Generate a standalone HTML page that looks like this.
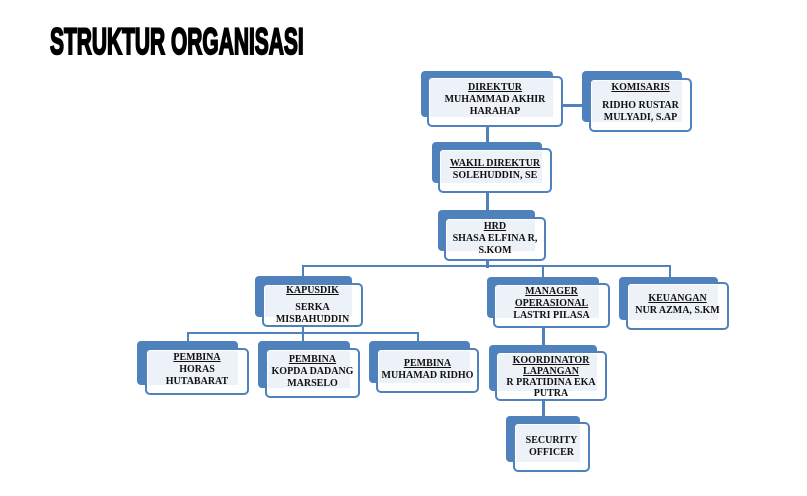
<!DOCTYPE html>
<html><head><meta charset="utf-8"><style>
body{margin:0;width:807px;height:496px;background:#fff;position:relative;overflow:hidden;font-family:"Liberation Serif",serif}
.t{position:absolute;left:50px;top:23px;font-family:"Liberation Sans Narrow","Liberation Sans",sans-serif;font-weight:bold;font-size:37px;line-height:37px;color:#000;transform-origin:0 0;transform:scaleX(0.566);white-space:nowrap;-webkit-text-stroke:2px #000;letter-spacing:0px}
.b{position:absolute;background:#4f81bd;border-radius:4px}
.f{position:absolute;background:#fff;border:2px solid #4f81bd;border-radius:5px;box-sizing:border-box}
.i{position:absolute;background:#edf1f8}
.x{position:absolute;display:flex;flex-direction:column;justify-content:center;align-items:center;text-align:center;font-size:10px;line-height:12px;font-weight:bold;color:#111}
.x u{font-weight:bold}
.l{position:absolute;background:#4f81bd}
</style></head><body>
<div class="t">STRUKTUR ORGANISASI</div>

<div class="l" style="left:486px;top:125px;width:3px;height:24px"></div>
<div class="l" style="left:486px;top:192px;width:3px;height:26px"></div>
<div class="l" style="left:486px;top:260px;width:3px;height:8px"></div>
<div class="l" style="left:302px;top:265px;width:369px;height:2px"></div>
<div class="l" style="left:302px;top:265px;width:2px;height:12px"></div>
<div class="l" style="left:542px;top:265px;width:2px;height:13px"></div>
<div class="l" style="left:669px;top:265px;width:2px;height:13px"></div>
<div class="l" style="left:302px;top:326px;width:2px;height:16px"></div>
<div class="l" style="left:187px;top:332px;width:232px;height:2px"></div>
<div class="l" style="left:187px;top:332px;width:2px;height:10px"></div>
<div class="l" style="left:417px;top:332px;width:2px;height:10px"></div>
<div class="l" style="left:542px;top:327px;width:3px;height:25px"></div>
<div class="l" style="left:542px;top:400px;width:3px;height:17px"></div>
<div class="l" style="left:558px;top:104px;width:28px;height:3px"></div>

<div class="b" style="left:421px;top:71px;width:132px;height:46px"></div>
<div class="f" style="left:427px;top:76px;width:136px;height:51px"></div>
<div class="i" style="left:430px;top:79px;width:123px;height:38px"></div>
<div class="x" style="left:427px;top:78px;width:136px;height:44px"><u>DIREKTUR</u>MUHAMMAD AKHIR<br>HARAHAP</div>

<div class="b" style="left:582px;top:71px;width:100px;height:51px"></div>
<div class="f" style="left:589px;top:78px;width:103px;height:54px"></div>
<div class="i" style="left:592px;top:81px;width:90px;height:41px"></div>
<div class="x" style="left:589px;top:78px;width:103px;height:50px"><u>KOMISARIS</u><div style="height:6px"></div>RIDHO RUSTAR<br>MULYADI, S.AP</div>

<div class="b" style="left:432px;top:142px;width:110px;height:41px"></div>
<div class="f" style="left:438px;top:148px;width:114px;height:45px"></div>
<div class="i" style="left:441px;top:151px;width:101px;height:32px"></div>
<div class="x" style="left:438px;top:150px;width:114px;height:40px"><u>WAKIL DIREKTUR</u>SOLEHUDDIN, SE</div>

<div class="b" style="left:438px;top:210px;width:97px;height:41px"></div>
<div class="f" style="left:444px;top:217px;width:102px;height:44px"></div>
<div class="i" style="left:447px;top:220px;width:88px;height:31px"></div>
<div class="x" style="left:444px;top:218px;width:102px;height:42px"><u>HRD</u>SHASA ELFINA R,<br>S.KOM</div>

<div class="b" style="left:255px;top:276px;width:97px;height:41px"></div>
<div class="f" style="left:262px;top:283px;width:101px;height:44px"></div>
<div class="i" style="left:265px;top:286px;width:87px;height:31px"></div>
<div class="x" style="left:262px;top:284px;width:101px;height:42px"><u>KAPUSDIK</u><div style="height:5px"></div>SERKA<br>MISBAHUDDIN</div>

<div class="b" style="left:487px;top:277px;width:112px;height:41px"></div>
<div class="f" style="left:493px;top:283px;width:117px;height:45px"></div>
<div class="i" style="left:496px;top:286px;width:103px;height:32px"></div>
<div class="x" style="left:493px;top:284px;width:117px;height:40px"><u>MANAGER<br>OPERASIONAL</u>LASTRI PILASA</div>

<div class="b" style="left:619px;top:277px;width:99px;height:43px"></div>
<div class="f" style="left:626px;top:282px;width:103px;height:48px"></div>
<div class="i" style="left:629px;top:285px;width:89px;height:35px"></div>
<div class="x" style="left:626px;top:283px;width:103px;height:44px"><u>KEUANGAN</u>NUR AZMA, S.KM</div>

<div class="b" style="left:137px;top:341px;width:101px;height:44px"></div>
<div class="f" style="left:145px;top:348px;width:104px;height:47px"></div>
<div class="i" style="left:148px;top:351px;width:90px;height:34px"></div>
<div class="x" style="left:145px;top:348px;width:104px;height:44px"><u>PEMBINA</u>HORAS<br>HUTABARAT</div>

<div class="b" style="left:258px;top:341px;width:92px;height:47px"></div>
<div class="f" style="left:265px;top:348px;width:95px;height:50px"></div>
<div class="i" style="left:268px;top:351px;width:82px;height:37px"></div>
<div class="x" style="left:265px;top:350px;width:95px;height:44px"><u>PEMBINA</u>KOPDA DADANG<br>MARSELO</div>

<div class="b" style="left:369px;top:341px;width:101px;height:42px"></div>
<div class="f" style="left:376px;top:348px;width:103px;height:45px"></div>
<div class="i" style="left:379px;top:351px;width:91px;height:32px"></div>
<div class="x" style="left:376px;top:350px;width:103px;height:40px"><u>PEMBINA</u>MUHAMAD RIDHO</div>

<div class="b" style="left:489px;top:345px;width:108px;height:46px"></div>
<div class="f" style="left:495px;top:351px;width:112px;height:50px"></div>
<div class="i" style="left:498px;top:354px;width:99px;height:37px"></div>
<div class="x" style="left:495px;top:353px;width:112px;height:48px;line-height:11px"><u>KOORDINATOR<br>LAPANGAN</u>R PRATIDINA EKA<br>PUTRA</div>

<div class="b" style="left:506px;top:416px;width:74px;height:46px"></div>
<div class="f" style="left:513px;top:422px;width:77px;height:50px"></div>
<div class="i" style="left:516px;top:425px;width:64px;height:37px"></div>
<div class="x" style="left:513px;top:422px;width:77px;height:50px">SECURITY<br>OFFICER</div>
</body></html>
